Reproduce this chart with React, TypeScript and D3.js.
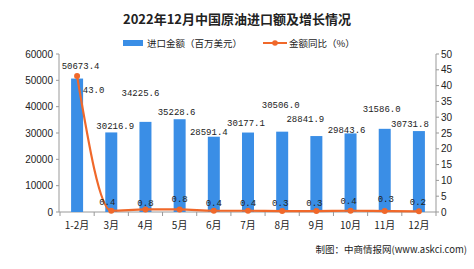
import React from "react";
import * as d3 from "d3";

const categories = ["1-2月", "3月", "4月", "5月", "6月", "7月", "8月", "9月", "10月", "11月", "12月"];
const importValue = [50673.4, 30216.9, 34225.6, 35228.6, 28591.4, 30177.1, 30506.0, 28841.9, 29843.6, 31586.0, 30731.8];
const yoyGrowth = [43.0, 0.4, 0.8, 0.8, 0.4, 0.4, 0.3, 0.3, 0.4, 0.3, 0.2];
const leftTicks = [0, 10000, 20000, 30000, 40000, 50000, 60000];
const rightTicks = [0, 5, 10, 15, 20, 25, 30, 35, 40, 45, 50];

// label placement tweaks (pixels) as in the original figure
const barLabelLift = [13, 7, 29, 8, 5, 10, 27, 18, 4, 20, 8];
const barLabelShift = [3.5, 4, -5, -3, -5, -2, -1.5, -11, -4, -3, -9];
const lineLabelLift = [-13, 9, 7, 11, 8, 8, 9, 9, 10, 13, 10];
const lineLabelShift = [16.5, -4, 0, 0, 0, 0, -2, -2, -2, 1, -1];

const W = 474;
const H = 269;
const left = 59;
const right = 436;
const top = 54;
const bottom = 212;

const BAR = "#3a8ee6";
const LINE = "#f0682a";
const TXT = "#222";
const AX = "#999";
const CJK = "'Noto Sans CJK SC', 'Liberation Sans', sans-serif";
const MONO = "'Liberation Mono', 'DejaVu Sans Mono', monospace";

export default function App() {
  const x = d3.scaleBand<string>().domain(categories).range([left + 1, right]).padding(0);
  const yL = d3.scaleLinear().domain([0, 60000]).range([bottom, top]);
  const yR = d3.scaleLinear().domain([0, 50]).range([bottom, top]);
  const bw = 12;
  const cx = (c: string) => (x(c) as number) + x.bandwidth() / 2;

  const line = d3
    .line<number>()
    .x((_, i) => cx(categories[i]))
    .y((d) => yR(d))
    .curve(d3.curveMonotoneX);

  const boundaries = [...categories.map((c) => x(c) as number), right];

  return (
    <svg width={W} height={H} style={{ position: "absolute", left: 0, top: 0, background: "#fff" }}>
      <text x={237} y={24} textAnchor="middle" fontFamily={CJK} fontWeight="bold" fontSize={13} fill={TXT}>
        2022年12月中国原油进口额及增长情况
      </text>
      {/* legend */}
      <rect x={123} y={40} width={20} height={6} fill={BAR} />
      <text x={147} y={46.5} fontFamily={CJK} fontSize={9.5} fill={TXT}>进口金额（百万美元）</text>
      <line x1={263} x2={287} y1={43} y2={43} stroke={LINE} strokeWidth={2} />
      <circle cx={275} cy={43} r={2.8} fill={LINE} />
      <text x={289} y={46.5} fontFamily={CJK} fontSize={9.5} fill={TXT}>金额同比（%）</text>

      {/* left axis */}
      <line x1={left} x2={left} y1={top} y2={bottom} stroke={AX} />
      {leftTicks.map((t) => (
        <g key={"l" + t}>
          <line x1={left - 3} x2={left} y1={yL(t)} y2={yL(t)} stroke={AX} />
          <text x={left - 6} y={yL(t) + 3.5} textAnchor="end" fontFamily="'Liberation Sans', Arial, sans-serif" fontSize={10} fill={TXT}>
            {t}
          </text>
        </g>
      ))}
      {/* right axis */}
      <line x1={right} x2={right} y1={top} y2={bottom} stroke={AX} />
      {rightTicks.map((t) => (
        <g key={"r" + t}>
          <line x1={right} x2={right + 3} y1={yR(t)} y2={yR(t)} stroke={AX} />
          <text x={right + 5} y={yR(t) + 3.5} textAnchor="start" fontFamily="'Liberation Sans', Arial, sans-serif" fontSize={10} fill={TXT}>
            {t}
          </text>
        </g>
      ))}
      {/* bottom axis */}
      <line x1={left} x2={right} y1={bottom} y2={bottom} stroke={AX} />
      {boundaries.map((b, i) => (
        <line key={"b" + i} x1={b} x2={b} y1={bottom} y2={bottom + 4} stroke={AX} />
      ))}
      {categories.map((c) => (
        <text key={"c" + c} x={cx(c)} y={229} textAnchor="middle" fontFamily={CJK} fontSize={10} fill={TXT}>
          {c}
        </text>
      ))}

      {/* bars */}
      {importValue.map((v, i) => (
        <rect key={"bar" + i} x={cx(categories[i]) - bw / 2} y={yL(v)} width={bw} height={bottom - yL(v)} fill={BAR} />
      ))}
      {importValue.map((v, i) => (
        <text
          key={"bl" + i}
          x={cx(categories[i]) + barLabelShift[i]}
          y={yL(v) - barLabelLift[i] + 3.5}
          textAnchor="middle"
          fontFamily={MONO}
          fontSize={9}
          fill={TXT}
        >
          {v.toFixed(1)}
        </text>
      ))}

      {/* line */}
      <path d={line(yoyGrowth) || ""} fill="none" stroke={LINE} strokeWidth={2.2} />
      {yoyGrowth.map((v, i) => (
        <circle key={"p" + i} cx={cx(categories[i])} cy={yR(v)} r={3} fill={LINE} />
      ))}
      {yoyGrowth.map((v, i) => (
        <text
          key={"pl" + i}
          x={cx(categories[i]) + lineLabelShift[i]}
          y={yR(v) - lineLabelLift[i] + 3.5}
          textAnchor="middle"
          fontFamily={MONO}
          fontSize={9}
          fill={TXT}
        >
          {v.toFixed(1)}
        </text>
      ))}

      <text x={467} y={253} textAnchor="end" fontFamily={CJK} fontSize={9.5} fill={TXT}>
        制图：中商情报网(www.askci.com)
      </text>
    </svg>
  );
}
